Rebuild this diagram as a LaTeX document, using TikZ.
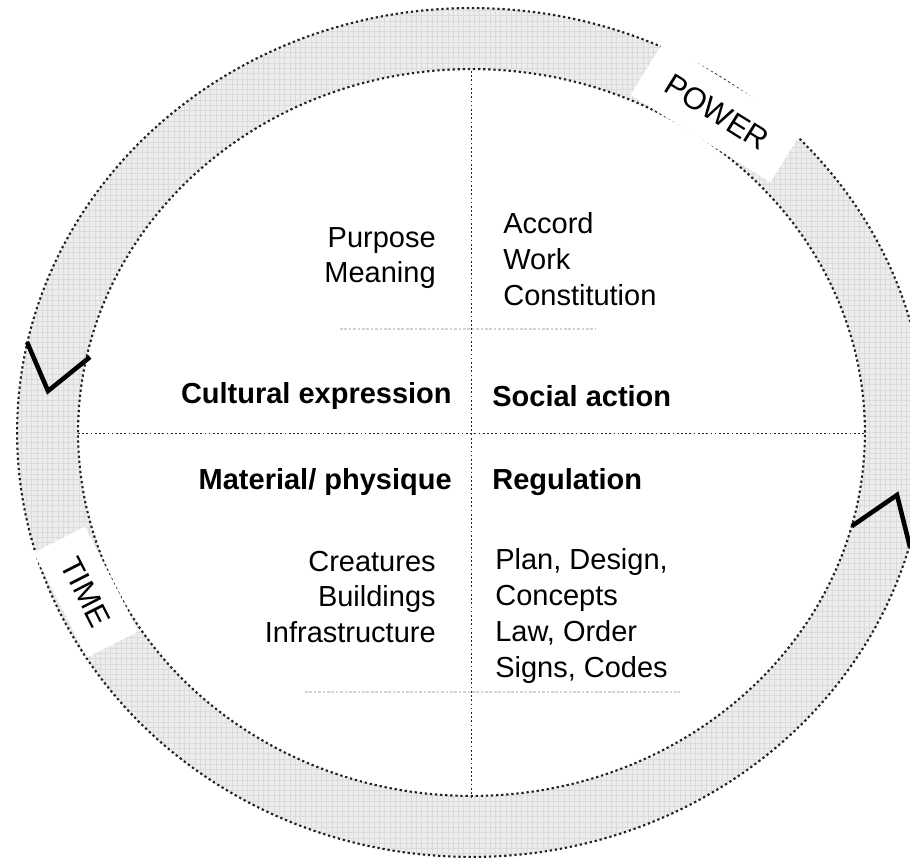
\documentclass[tikz,border=0pt]{standalone}
\usepackage{fontspec}
\setmainfont{Liberation Sans}
\usetikzlibrary{patterns}

\begin{document}
\begin{tikzpicture}[x=0.02cm,y=-0.02cm,
  every node/.style={inner sep=0pt,font=\fontsize{16.5}{20.4}\selectfont},
  ring/.style={even odd rule,preaction={fill=gray!14,even odd rule},pattern=grid,pattern color=gray!28},
  rim/.style={gray!25!black,line width=1.2pt,dash pattern=on 1.3pt off 1.6pt},
  axis/.style={gray!30!black,line width=0.9pt,dash pattern=on 1pt off 1.4pt},
  ghost/.style={gray!35,line width=1pt,dash pattern=on 1.5pt off 1pt},
  tick/.style={black,line width=2.6pt,line join=miter},
  tag/.style={fill=white,font=\fontsize{17.5}{20}\selectfont}]
\useasboundingbox (0,0) rectangle (910,859);
\begin{scope}
\clip (0,0) rectangle (910,859);
\coordinate (c) at (471.5,432.5);
% the ring of time and power
\path[ring] (c) ellipse [x radius=9.09cm,y radius=8.49cm]
            (c) ellipse [x radius=7.87cm,y radius=7.27cm];
\draw[rim] (c) ellipse [x radius=9.09cm,y radius=8.49cm];
\draw[rim] (c) ellipse [x radius=7.87cm,y radius=7.27cm];
\end{scope}
% quadrants
\coordinate (top) at (471.5,71);
\coordinate (bottom) at (471.5,798);
\coordinate (left) at (78,433.5);
\coordinate (right) at (865,433.5);
\coordinate (g1) at (340,329);
\coordinate (g2) at (595,329);
\coordinate (g3) at (305,692);
\coordinate (g4) at (680,692);
\draw[ghost] (g1) -- (g2);
\draw[ghost] (g3) -- (g4);
\draw[axis] (top) -- (bottom);
\draw[axis] (left) -- (right);
% direction marks
\draw[tick] (27,342) -- (48,391) -- (90,357);
\draw[tick] (852,526) -- (897,495) -- (910,547);
% labels on the ring
\node[tag,rotate=-32,minimum width=3.3cm,minimum height=1.25cm] (power) at (717,112) {POWER};
\node[tag,rotate=-63,minimum width=2.35cm,minimum height=1.15cm] (time) at (86,592) {TIME};
% quadrant texts
\node[anchor=east,align=right] (purpose) at (436,258) {Purpose\\Meaning};
\node[anchor=west,align=left] (accord) at (503,259) {Accord\\Work\\Constitution};
\node[anchor=east,font=\fontsize{16.5}{20.4}\selectfont\bfseries] (cultural) at (452,396) {Cultural expression};
\node[anchor=west,font=\fontsize{16.5}{20.4}\selectfont\bfseries] (social) at (492,396) {Social action};
\node[anchor=east,font=\fontsize{16.5}{20.4}\selectfont\bfseries] (material) at (452,482) {Material/ physique};
\node[anchor=west,font=\fontsize{16.5}{20.4}\selectfont\bfseries] (regulation) at (492,482) {Regulation};
\node[anchor=east,align=right] (creatures) at (436,597) {Creatures\\Buildings\\Infrastructure};
\node[anchor=west,align=left] (plan) at (495,616) {Plan, Design,\\Concepts\\Law, Order\\Signs, Codes};
\end{tikzpicture}
\end{document}
